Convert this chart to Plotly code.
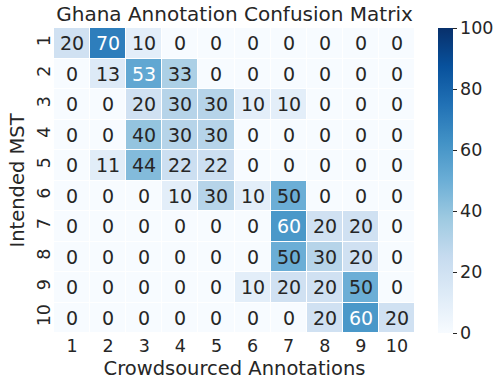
import plotly.graph_objects as go

# Confusion matrix values (percent), rows = intended MST, cols = crowdsourced
labels = [str(i) for i in range(1, 11)]
row_1 = [20, 70, 10, 0, 0, 0, 0, 0, 0, 0]
row_2 = [0, 13, 53, 33, 0, 0, 0, 0, 0, 0]
row_3 = [0, 0, 20, 30, 30, 10, 10, 0, 0, 0]
row_4 = [0, 0, 40, 30, 30, 0, 0, 0, 0, 0]
row_5 = [0, 11, 44, 22, 22, 0, 0, 0, 0, 0]
row_6 = [0, 0, 0, 10, 30, 10, 50, 0, 0, 0]
row_7 = [0, 0, 0, 0, 0, 0, 60, 20, 20, 0]
row_8 = [0, 0, 0, 0, 0, 0, 50, 30, 20, 0]
row_9 = [0, 0, 0, 0, 0, 10, 20, 20, 50, 0]
row_10 = [0, 0, 0, 0, 0, 0, 0, 20, 60, 20]
matrix = [row_1, row_2, row_3, row_4, row_5, row_6, row_7, row_8, row_9, row_10]
cbar_ticks = [0, 20, 40, 60, 80, 100]

# matplotlib "Blues"
blues = ['#f7fbff', '#deebf7', '#c6dbef', '#9ecae1', '#6baed6',
         '#4292c6', '#2171b5', '#08519c', '#08306b']
colorscale = [[i / (len(blues) - 1), c] for i, c in enumerate(blues)]

font_family = "DejaVu Sans"
txt = '#262626'
idx = list(range(len(labels)))

fig = go.Figure()
fig.add_trace(go.Heatmap(
    z=matrix, x=idx, y=idx,
    zmin=0, zmax=100, colorscale=colorscale,
    xgap=1, ygap=1,
    colorbar=dict(thickness=15, len=1, lenmode='fraction', x=1.063, xanchor='left',
                  xpad=0, ypad=0,
                  y=0.5, yanchor='middle', tickvals=cbar_ticks, ticks='outside',
                  ticklen=4, tickcolor=txt, outlinewidth=0,
                  tickfont=dict(family=font_family, size=17.5, color=txt)),
    hoverinfo='skip'))

# cell annotations: white on dark cells, like seaborn
for r, row in enumerate(matrix):
    for c, v in enumerate(row):
        fig.add_annotation(x=idx[c], y=idx[r], text=str(v), showarrow=False,
                           font=dict(family=font_family, size=19,
                                     color='white' if v > 52 else txt))

fig.update_xaxes(showgrid=False, zeroline=False, ticks='', automargin=False,
                 tickvals=idx, ticktext=labels, range=[-0.5, 9.5],
                 tickfont=dict(family=font_family, size=17.5, color=txt),
                 title=dict(text='Crowdsourced Annotations', standoff=6,
                            font=dict(family=font_family, size=19.5, color=txt)))
fig.update_yaxes(showgrid=False, zeroline=False, ticks='', automargin=False,
                 tickvals=idx, ticktext=labels, range=[9.5, -0.5],
                 tickangle=-90,
                 tickfont=dict(family=font_family, size=17.5, color=txt),
                 title=dict(text='Intended MST', standoff=3,
                            font=dict(family=font_family, size=19.5, color=txt)))

fig.update_layout(
    title=dict(text='Ghana Annotation Confusion Matrix', x=0.5, xref='paper',
               y=0.965, yanchor='middle', automargin=False,
               font=dict(family=font_family, size=20, color=txt)),
    width=500, height=387,
    margin=dict(l=54, r=85, t=28, b=54, autoexpand=False),
    plot_bgcolor='white', paper_bgcolor='white',
)

# drop the page's default body margin so the figure sits at the window corner
fig.write_html("out.html", config={'displayModeBar': False},
               post_script="document.body.style.margin='0';")
